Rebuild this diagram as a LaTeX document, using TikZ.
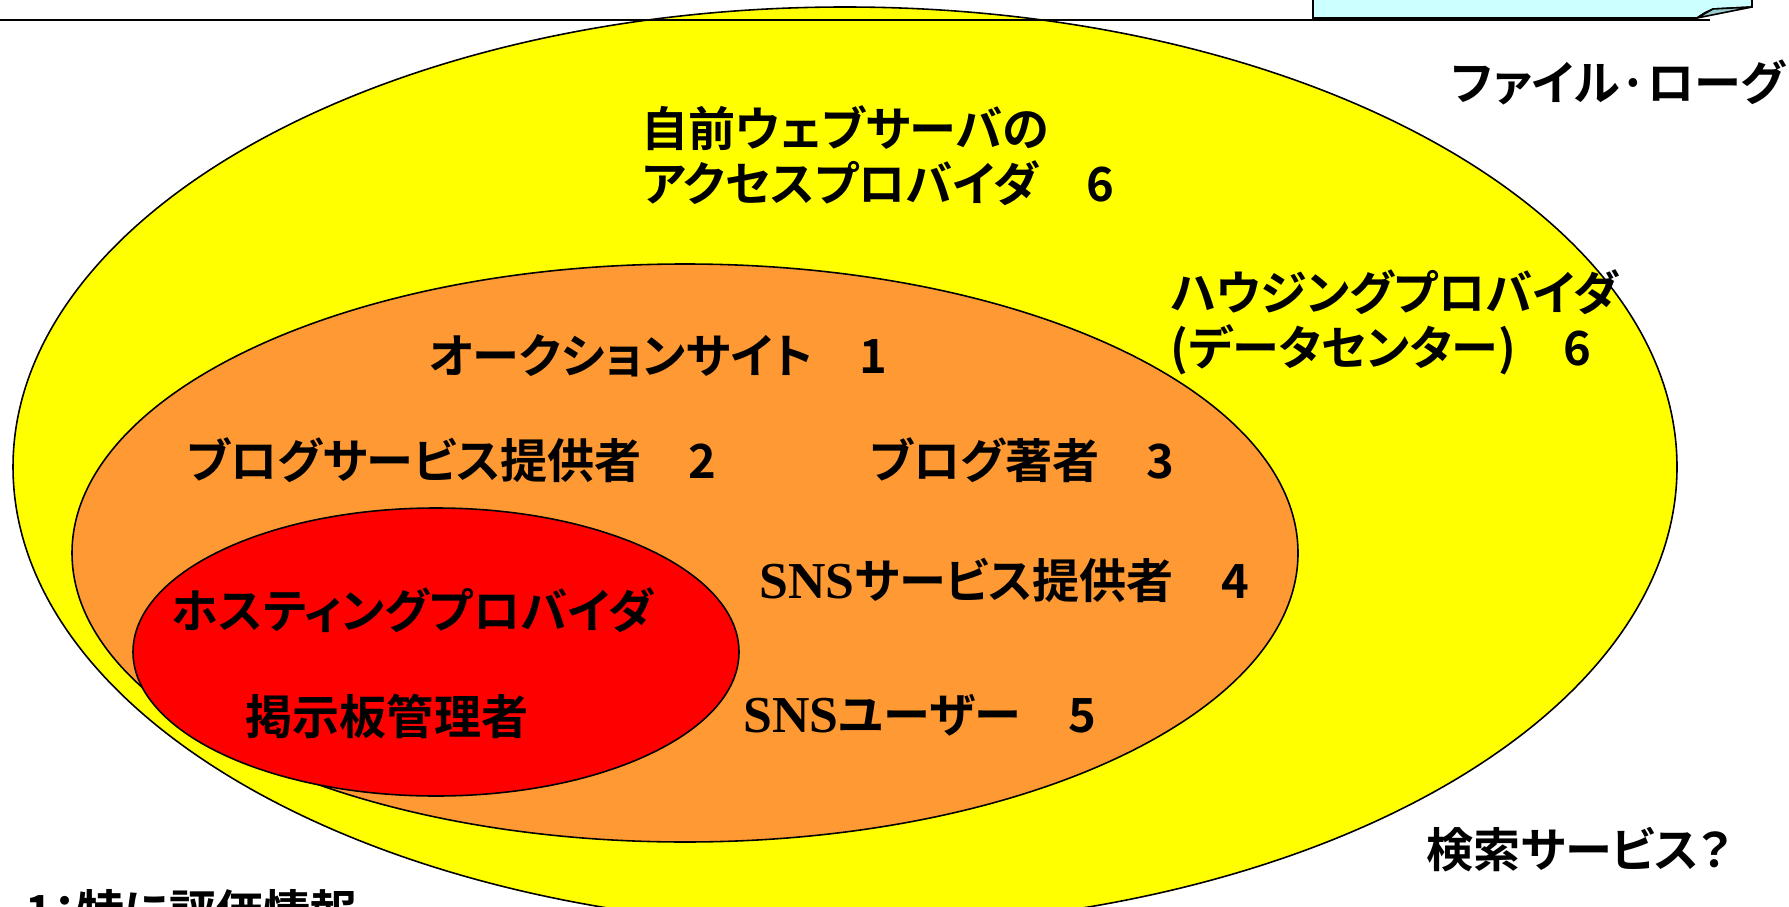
\documentclass[tikz,border=0pt]{standalone}
\usepackage{fontspec}
\setmainfont{Noto Sans CJK JP}[BoldFont={Noto Sans CJK JP Bold}, RawFeature=+palt]
\newfontfamily\snsfont{Liberation Serif}[Scale=1.1]
\usepackage{xcolor}
\usetikzlibrary{shapes.geometric, positioning}

\definecolor{zoneyellow}{RGB}{255,255,0}
\definecolor{zoneorange}{RGB}{255,153,51}
\definecolor{zonered}{RGB}{255,0,0}
\definecolor{boxblue}{RGB}{204,255,255}
\definecolor{foldblue}{RGB}{153,204,204}

\begin{document}
\begin{tikzpicture}[
        x=0.1mm, y=-0.1mm,
        zone/.style={ellipse, draw, line width=0.45pt, inner sep=0pt},
        label/.style={anchor=west, inner sep=0pt, align=left,
            font=\bfseries\fontsize{13.4pt}{15.6pt}\selectfont}
    ]
        \useasboundingbox (0,0) rectangle (1789,906);
        % nested zones
        \node[zone, fill=zoneyellow, minimum width=166.4mm, minimum height=92mm] (Y) at (845,467) {};
        \node[zone, fill=zoneorange, minimum width=122.6mm, minimum height=57.8mm] (O) at (685,553) {};
        \node[zone, fill=zonered, minimum width=60.6mm, minimum height=28.8mm] (Rd) at (436,652) {};

        % labels
        \node[label] (web) at (641,156) {自前ウェブサーバの\\アクセスプロバイダ　6};
        \node[label] (housing) at (1170,322) {ハウジングプロバイダ\\(データセンター)　6};
        \node[label] (auction) at (428,356) {オークションサイト　1};
        \node[label] (blogsvc) at (186,460) {ブログサービス提供者　2};
        \node[label] (blogger) at (869,460) {ブログ著者　3};
        \node[label] (snssvc) at (759,580) {{\snsfont SNS}サービス提供者　4};
        \node[label] (snsuser) at (743,715) {{\snsfont SNS}ユーザー　5};
        \node[label] (hosting) at (171,610) {ホスティングプロバイダ};
        \node[label] (bbs) at (245,717) {掲示板管理者};
        \node[label] (log) at (1451,82) {ファイル·ローグ};
        \node[label] (search) at (1426,850) {検索サービス？};
        \node[label] (note) at (25,912) {1：特に評価情報};

        % top strip
        \draw[line width=0.75pt] (0,20) -- (1710,20);
        \draw[line width=0.45pt, fill=boxblue] (1313,-10) -- (1313,18) -- (1697,18)
            .. controls (1704,13) .. (1713,9) -- (1752,7) -- (1752,-10);
        \draw[line width=0.45pt, fill=foldblue] (1697,18) -- (1713,9) -- (1752,7) -- cycle;
    \end{tikzpicture}
\end{document}
